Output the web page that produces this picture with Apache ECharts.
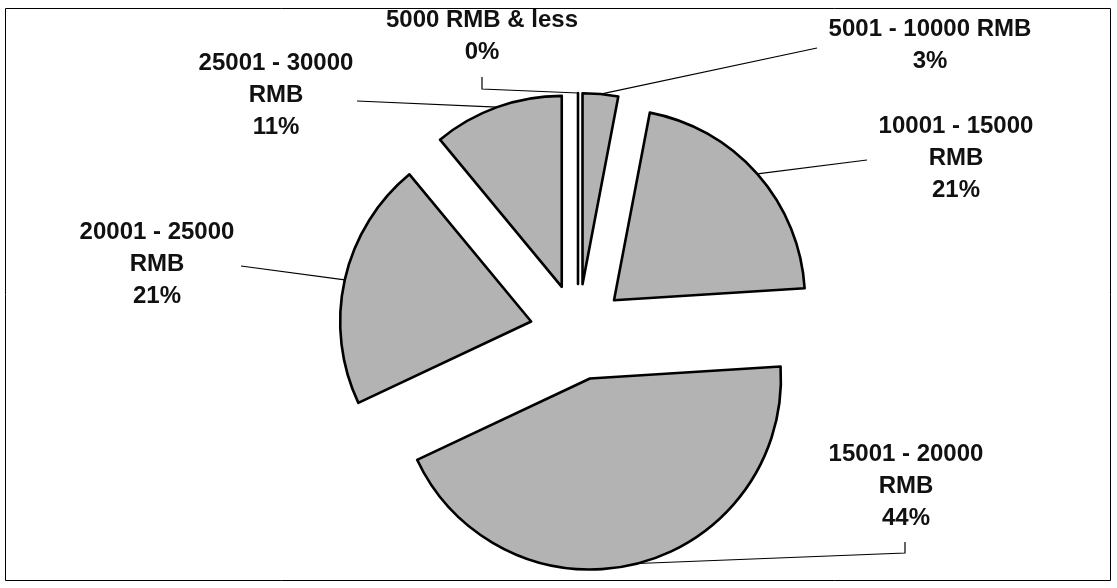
<!DOCTYPE html>
<html>
<head>
<meta charset="utf-8">
<script src="https://cdn.jsdelivr.net/npm/echarts@6/dist/echarts.min.js"></script>
<style>
  html, body { margin: 0; padding: 0; background: #ffffff; }
  #chart { width: 1117px; height: 588px; }
</style>
</head>
<body>
<div id="chart"></div>
<script>
// Income bands (label text wraps where the "\n" is)
const categories = [
  '5000 RMB & less',
  '5001 - 10000 RMB',
  '10001 - 15000\nRMB',
  '15001 - 20000\nRMB',
  '20001 - 25000\nRMB',
  '25001 - 30000\nRMB'
];
// Share of respondents per band, in percent
const shares = [0, 3, 21, 44, 21, 11];

// Pie geometry
const CENTER = [578, 332];
const RADIUS = 191;
const EXPLODE = 48;

// Where each label block sits, and the bend points of its leader line
const labelSpots = [
  { x: 482, y: 36,  bends: [[482, 89], [482, 77]] },
  { x: 930, y: 45,  bends: [[817, 48]] },
  { x: 956, y: 158, bends: [[867, 160]] },
  { x: 906, y: 486, bends: [[905, 553], [905, 542]] },
  { x: 157, y: 264, bends: [[241, 266]] },
  { x: 276, y: 95,  bends: [[357, 101]] }
];

// Mid-arc point of each exploded slice (slices run clockwise from 12 o'clock)
const total = shares.reduce((a, b) => a + b, 0);
function arcPoint(i) {
  let before = 0;
  for (let k = 0; k < i; k++) before += shares[k];
  const mid = (before + shares[i] / 2) / total * 2 * Math.PI;
  const d = RADIUS + EXPLODE;
  return [CENTER[0] + d * Math.sin(mid), CENTER[1] - d * Math.cos(mid)];
}

const pieData = categories.map((name, i) => ({ name: name, value: shares[i] }));
const sliceStyle = { color: '#b3b3b3', borderColor: '#000000', borderWidth: 2.6 };

const chart = echarts.init(document.getElementById('chart'), null, { renderer: 'canvas' });

chart.setOption({
  animation: false,
  backgroundColor: '#ffffff',
  graphic: [{
    type: 'rect',
    shape: { x: 5.5, y: 8.5, width: 1105, height: 572 },
    style: { fill: 'none', stroke: '#000000', lineWidth: 1 },
    silent: true
  }],
  series: [
    {
      // exploded slices
      type: 'pie',
      center: CENTER,
      radius: RADIUS,
      startAngle: 90,
      clockwise: true,
      selectedMode: 'multiple',
      selectedOffset: EXPLODE,
      itemStyle: sliceStyle,
      select: { itemStyle: sliceStyle },
      emphasis: { disabled: true },
      label: { show: false },
      labelLine: { show: false },
      silent: true,
      data: pieData.map(d => Object.assign({ selected: true }, d))
    },
    {
      // data labels with leader lines
      type: 'pie',
      center: CENTER,
      radius: RADIUS,
      startAngle: 90,
      clockwise: true,
      avoidLabelOverlap: false,
      percentPrecision: 0,
      silent: true,
      z: 3,
      itemStyle: { color: 'rgba(0,0,0,0)', borderWidth: 0 },
      emphasis: { disabled: true },
      label: {
        show: true,
        position: 'outside',
        formatter: p => p.name + '\n' + p.percent + '%',
        fontFamily: '"Liberation Sans", Arial, sans-serif',
        fontSize: 24,
        fontWeight: 'bold',
        lineHeight: 32,
        color: '#111111',
        opacity: 1,
        align: 'center'
      },
      labelLine: { show: true, lineStyle: { color: '#000000', width: 1.2, opacity: 1 } },
      labelLayout: function (params) {
        const i = params.dataIndex;
        const spot = labelSpots[i];
        return {
          x: spot.x,
          y: spot.y,
          align: 'center',
          verticalAlign: 'middle',
          labelLinePoints: [arcPoint(i)].concat(spot.bends)
        };
      },
      data: pieData
    }
  ]
});
</script>
</body>
</html>
